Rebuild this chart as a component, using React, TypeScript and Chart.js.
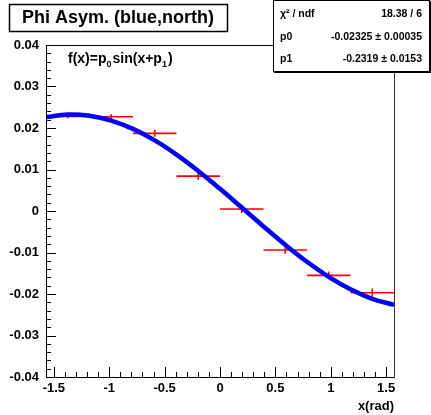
import React, { useEffect, useRef } from 'react';
import { Chart, registerables } from 'chart.js';

Chart.register(...registerables);

// Histogram bins (centres, x in rad) and measured asymmetry
const binCenters = [-1.3745, -0.9817, -0.589, -0.1963, 0.1963, 0.589, 0.9817, 1.3745];
const binHalfWidth = 0.19635;
const asymValues = [0.0228, 0.0227, 0.0187, 0.0084, 0.0005, -0.0094, -0.0155, -0.0197];
const asymErrors = [0.0005, 0.0006, 0.0008, 0.0009, 0.001, 0.0009, 0.0009, 0.001];

// Fit curve
const fitX = [-1.5708, -1.3745, -1.1781, -0.9817, -0.7854, -0.589, -0.3927, -0.1963, 0, 0.1963, 0.3927, 0.589, 0.7854, 0.9817, 1.1781, 1.3745, 1.5708];
const fitY = [0.02263, 0.02324, 0.02295, 0.02178, 0.01978, 0.01702, 0.0136, 0.00965, 0.00534, 0.00083, -0.00372, -0.00813, -0.01223, -0.01585, -0.01886, -0.02115, -0.02263];

const xMajorTicks = [-1.5, -1, -0.5, 0, 0.5, 1, 1.5];
const xTickLabels = ['-1.5', '-1', '-0.5', '0', '0.5', '1', '1.5'];
const yMajorTicks = [0.04, 0.03, 0.02, 0.01, 0, -0.01, -0.02, -0.03, -0.04];
const yTickLabels = ['0.04', '0.03', '0.02', '0.01', '0', '-0.01', '-0.02', '-0.03', '-0.04'];

const titleText = 'Phi Asym. (blue,north)';
const xAxisTitle = 'x(rad)';
const statRows = [
  ['χ² / ndf', '18.38 / 6'],
  ['p0', '-0.02325 ± 0.00035'],
  ['p1', '-0.2319 ± 0.0153'],
];

const FONT = '"Liberation Sans", Arial, Helvetica, sans-serif';

const overlayPlugin = {
  id: 'rootOverlay',
  beforeDatasetsDraw(chart: any) {
    const ctx = chart.ctx;
    const xs = chart.scales.x;
    const ys = chart.scales.y;
    ctx.save();
    ctx.strokeStyle = '#ff0000';
    ctx.lineWidth = 1.6;
    binCenters.forEach((c, i) => {
      const v = asymValues[i];
      const e = asymErrors[i];
      const x0 = xs.getPixelForValue(c - binHalfWidth);
      const x1 = xs.getPixelForValue(c + binHalfWidth);
      const xc = xs.getPixelForValue(c);
      const yc = ys.getPixelForValue(v);
      ctx.beginPath();
      ctx.moveTo(x0, yc);
      ctx.lineTo(x1, yc);
      ctx.moveTo(xc, ys.getPixelForValue(v + e));
      ctx.lineTo(xc, ys.getPixelForValue(v - e));
      ctx.stroke();
    });
    ctx.restore();
  },
  afterDraw(chart: any) {
    const ctx = chart.ctx;
    const xs = chart.scales.x;
    const ys = chart.scales.y;
    const a = chart.chartArea;
    ctx.save();
    // frame
    ctx.strokeStyle = '#000';
    ctx.lineWidth = 1;
    ctx.strokeRect(Math.round(a.left) + 0.5, Math.round(a.top) + 0.5, Math.round(a.right - a.left), Math.round(a.bottom - a.top));
    ctx.fillStyle = '#333';
    ctx.fillRect(Math.round(a.right), Math.round(a.top), 1, Math.round(a.bottom - a.top) + 1);

    // x ticks
    ctx.beginPath();
    for (let k = -16; k <= 16; k++) {
      const v = k / 10;
      if (v < xs.min - 1e-9 || v > xs.max + 1e-9) continue;
      const px = Math.round(xs.getPixelForValue(v)) + 0.5;
      const len = k % 5 === 0 ? 10 : 5;
      ctx.moveTo(px, a.bottom);
      ctx.lineTo(px, a.bottom - len);
    }
    // y ticks
    for (let k = -20; k <= 20; k++) {
      const v = k * 0.002;
      const py = Math.round(ys.getPixelForValue(v)) + 0.5;
      const len = k % 5 === 0 ? 10 : 5;
      ctx.moveTo(a.left, py);
      ctx.lineTo(a.left + len, py);
    }
    ctx.stroke();

    // tick labels
    ctx.fillStyle = '#000';
    ctx.font = 'bold 13px ' + FONT;
    ctx.textAlign = 'right';
    ctx.textBaseline = 'middle';
    yMajorTicks.forEach((v, i) => {
      ctx.fillText(yTickLabels[i], a.left - 7, ys.getPixelForValue(v));
    });
    ctx.textAlign = 'center';
    ctx.textBaseline = 'middle';
    xMajorTicks.forEach((v, i) => {
      ctx.fillText(xTickLabels[i], xs.getPixelForValue(v), a.bottom + 11);
    });
    // x axis title
    ctx.textAlign = 'right';
    ctx.fillText(xAxisTitle, a.right, a.bottom + 29);

    // function label
    ctx.textAlign = 'left';
    ctx.textBaseline = 'alphabetic';
    const big = 'bold 14px ' + FONT;
    const small = 'bold 9px ' + FONT;
    let fx = 68;
    const fy = 63;
    const parts: [string, boolean][] = [['f(x)=p', false], ['0', true], ['sin(x+p', false], ['1', true], [')', false]];
    parts.forEach(([t, sub]) => {
      ctx.font = sub ? small : big;
      ctx.fillText(t, fx, sub ? fy + 4 : fy);
      fx += ctx.measureText(t).width + (sub ? 1 : 0);
    });

    // title box
    ctx.fillStyle = '#fff';
    ctx.fillRect(9, 4, 218, 27);
    ctx.strokeStyle = '#000';
    ctx.lineWidth = 1.5;
    ctx.strokeRect(9.5, 4.5, 218, 27);
    ctx.fillStyle = '#000';
    ctx.font = 'bold 18px ' + FONT;
    ctx.textAlign = 'center';
    ctx.textBaseline = 'middle';
    ctx.fillText(titleText, 118, 18.5);

    // stats box
    ctx.fillStyle = '#fff';
    ctx.fillRect(273, 0, 157, 72);
    ctx.lineWidth = 1;
    ctx.strokeRect(273.5, 0.5, 156, 71);
    ctx.fillStyle = '#000';
    ctx.fillRect(274, 71, 157, 2);
    ctx.fillRect(429, 1, 2, 72);
    ctx.font = 'bold 10.5px ' + FONT;
    const rowY = [14, 37, 59];
    statRows.forEach((r, i) => {
      ctx.textAlign = 'left';
      ctx.fillText(r[0], 280, rowY[i]);
      ctx.textAlign = 'right';
      ctx.fillText(r[1], 422, rowY[i]);
    });
    ctx.restore();
  },
};

export default function App() {
  const ref = useRef<HTMLCanvasElement | null>(null);
  useEffect(() => {
    if (!ref.current) return;
    const chart = new Chart(ref.current, {
      type: 'line',
      data: {
        datasets: [
          {
            label: 'fit',
            data: fitX.map((x, i) => ({ x, y: fitY[i] })),
            borderColor: '#0000ff',
            borderWidth: 4.5,
            pointRadius: 0,
            tension: 0.4,
            fill: false,
          },
        ],
      },
      options: {
        responsive: false,
        maintainAspectRatio: false,
        animation: false,
        devicePixelRatio: 1,
        layout: { padding: { left: 46, right: 37, top: 45, bottom: 38 } },
        plugins: { legend: { display: false }, tooltip: { enabled: false }, title: { display: false } },
        scales: {
          x: { type: 'linear', min: -Math.PI / 2, max: Math.PI / 2, display: false },
          y: { type: 'linear', min: -0.04, max: 0.04, display: false },
        },
      },
      plugins: [overlayPlugin],
    });
    return () => chart.destroy();
  }, []);
  return (
    <div style={{ position: 'fixed', left: 0, top: 0, width: 431, height: 415, background: '#fff' }}>
      <canvas ref={ref} width={431} height={415} style={{ width: 431, height: 415, display: 'block' }} />
    </div>
  );
}
